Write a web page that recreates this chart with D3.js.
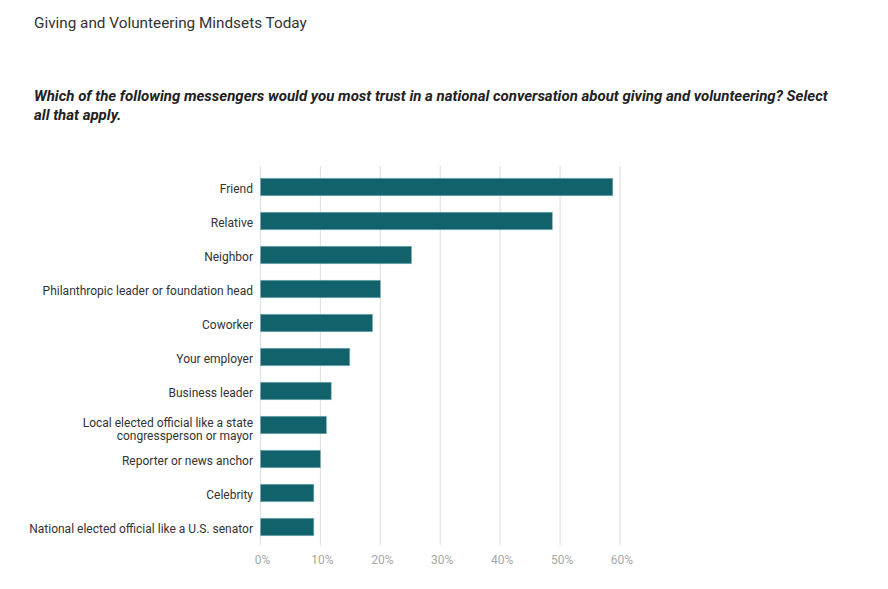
<!DOCTYPE html>
<html>
<head>
<meta charset="utf-8">
<script src="https://cdn.jsdelivr.net/npm/d3@7"></script>
<style>
  body { margin: 0; background: #fff; font-family: Roboto, sans-serif; }
</style>
</head>
<body>
<div id="chart"></div>
<script>
// messengers, top to bottom
const categories = [
  'Friend',
  'Relative',
  'Neighbor',
  'Philanthropic leader or foundation head',
  'Coworker',
  'Your employer',
  'Business leader',
  'Local elected official like a state\ncongressperson or mayor',
  'Reporter or news anchor',
  'Celebrity',
  'National elected official like a U.S. senator'
];
// share of respondents (%)
const values = [58.8, 48.7, 25.2, 20, 18.7, 14.9, 11.8, 11, 10, 8.9, 8.9];
const tickValues = [0, 10, 20, 30, 40, 50, 60];

const width = 888;
const height = 589;

const svg = d3.select('#chart')
  .append('svg')
  .attr('width', width)
  .attr('height', height);

// headline
svg.append('text')
  .attr('x', 34)
  .attr('y', 28)
  .attr('font-size', '15.3px')
  .attr('fill', '#333')
  .text('Giving and Volunteering Mindsets Today');

const question = [
  'Which of the following messengers would you most trust in a national conversation about giving and volunteering? Select',
  'all that apply.'
];
svg.append('text')
  .attr('font-size', '15px')
  .attr('font-weight', 'bold')
  .attr('font-style', 'italic')
  .attr('fill', '#222')
  .selectAll('tspan')
  .data(question)
  .join('tspan')
  .attr('x', 34)
  .attr('y', (d, i) => 101 + i * 19)
  .text(d => d);

const x = d3.scaleLinear()
  .domain([0, 60])
  .range([260.5, 620]);

const y = d3.scaleBand()
  .domain(categories)
  .range([170, 544])
  .paddingInner(0.485)
  .paddingOuter(0.2425);

// gridlines
svg.append('g')
  .selectAll('line')
  .data(tickValues)
  .join('line')
  .attr('x1', d => x(d))
  .attr('x2', d => x(d))
  .attr('y1', 166)
  .attr('y2', 545)
  .attr('stroke', '#e2e2e2')
  .attr('stroke-width', 1.2);

// tick labels
svg.append('g')
  .selectAll('text')
  .data(tickValues)
  .join('text')
  .attr('x', d => x(d) + 2)
  .attr('y', 563.5)
  .attr('text-anchor', 'middle')
  .attr('font-size', '12px')
  .attr('fill', '#a8a8a8')
  .text(d => d + '%');

// bars
svg.append('g')
  .selectAll('rect')
  .data(values)
  .join('rect')
  .attr('x', x(0))
  .attr('y', (d, i) => y(categories[i]))
  .attr('width', d => x(d) - x(0))
  .attr('height', y.bandwidth())
  .attr('fill', '#12626c')
  .attr('stroke', '#7fb0b5')
  .attr('stroke-width', 0.6);

// category labels (sit a little below the bar centre, as in the original)
const labels = svg.append('g')
  .selectAll('text')
  .data(categories)
  .join('text')
  .attr('text-anchor', 'end')
  .attr('font-size', '12px')
  .attr('fill', '#333');

labels.each(function(d) {
  const lines = d.split('\n');
  const n = lines.length;
  const cy = y(d) + y.bandwidth() / 2;
  d3.select(this).selectAll('tspan')
    .data(lines)
    .join('tspan')
    .attr('x', 253)
    .attr('y', (l, i) => cy + 5.5 + (i - (n - 1) / 2) * 13.5 + (n - 1) * 3)
    .text(l => l);
});
</script>
</body>
</html>
